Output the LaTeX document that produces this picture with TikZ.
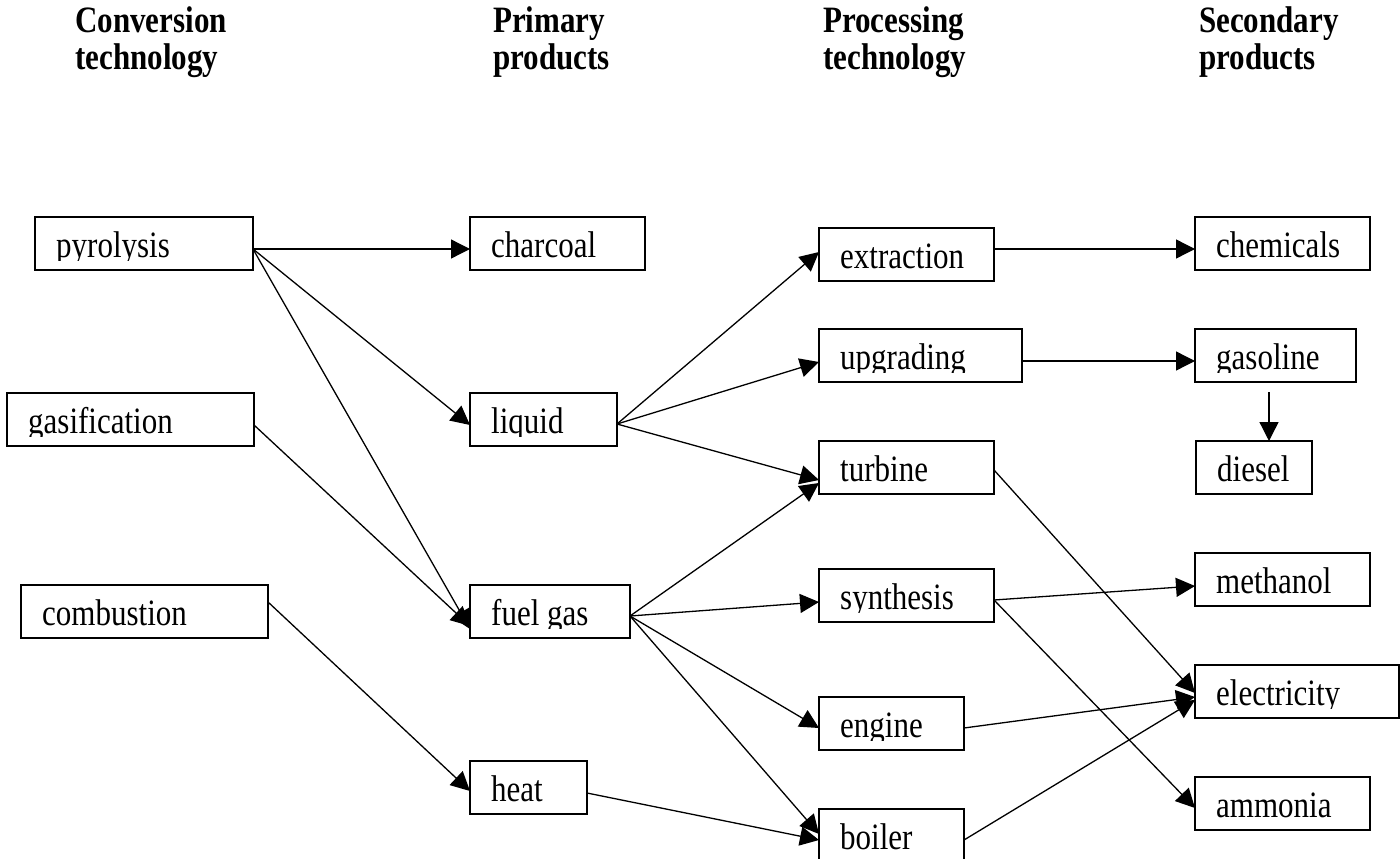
\documentclass[tikz,border=0pt]{standalone}
\usepackage{fontspec}
\setmainfont{Liberation Serif}
\usetikzlibrary{arrows.meta}
\tikzset{
  boxst/.style={draw, line width=1.6pt, rectangle, minimum height=53pt, inner sep=0pt, outer sep=0pt},
  lbl/.style={anchor=base west, inner sep=0pt, font=\fontsize{31}{36}\selectfont},
  hdr/.style={anchor=base west, inner sep=0pt, font=\fontsize{31}{36}\selectfont\bfseries},
  conn/.style={line width=1.3pt, -{Triangle[length=19pt,width=19pt]}},
}
\newcommand\vs[1]{\scalebox{1}[1.2]{#1}}
% name, left x, top y, width, text
\newcommand\bx[5]{%
  \node[boxst, minimum width=#4pt] (#1) at (#2+#4/2, #3+26.5) {};
  \begin{scope}
    \clip (#2,#3) rectangle (#2+#4,#3+43);
    \node[lbl] (#1-t) at (#2+21,#3+40) {\vs{#5}};
  \end{scope}}
\begin{document}
\begin{tikzpicture}[x=1pt,y=-1pt]
\useasboundingbox (0,0) rectangle (1400,859);
% headers
\node[hdr] (h1a) at (75,33) {\vs{Conversion}};
\node[hdr] (h1b) at (75,70) {\vs{technology}};
\node[hdr] (h2a) at (493,33) {\vs{Primary}};
\node[hdr] (h2b) at (493,70) {\vs{products}};
\node[hdr] (h3a) at (823,33) {\vs{Processing}};
\node[hdr] (h3b) at (823,70) {\vs{technology}};
\node[hdr] (h4a) at (1199,33) {\vs{Secondary}};
\node[hdr] (h4b) at (1199,70) {\vs{products}};
% boxes
\bx{pyro}{35}{217}{218}{pyrolysis}
\bx{gasif}{7}{393}{247}{gasification}
\bx{comb}{21}{585}{247}{combustion}
\bx{charcoal}{470}{217}{175}{charcoal}
\bx{liquid}{470}{393}{147}{liquid}
\bx{fuelgas}{470}{585}{160}{fuel gas}
\bx{heat}{470}{761}{117}{heat}
\bx{extraction}{819}{228}{175}{extraction}
\bx{upgrading}{819}{329}{203}{upgrading}
\bx{turbine}{819}{441}{175}{turbine}
\bx{synthesis}{819}{569}{175}{synthesis}
\bx{engine}{819}{697}{145}{engine}
\bx{boiler}{819}{809}{145}{boiler}
\bx{chemicals}{1195}{217}{175}{chemicals}
\bx{gasoline}{1195}{329}{161}{gasoline}
\bx{diesel}{1196}{441}{116}{diesel}
\bx{methanol}{1195}{553}{175}{methanol}
\bx{electricity}{1195}{665}{204}{electricity}
\bx{ammonia}{1195}{777}{175}{ammonia}
% connectors
\draw[conn] ([yshift=-32pt]pyro.north east) -- ([yshift=-32pt]charcoal.north west);
\draw[conn] ([yshift=-32pt]pyro.north east) -- ([yshift=-32pt]liquid.north west);
\draw[conn] ([yshift=-32pt]pyro.north east) -- ([yshift=-44pt]fuelgas.north west);
\draw[conn] ([yshift=-32pt]gasif.north east) -- ([yshift=-41pt]fuelgas.north west);
\draw[conn] ([yshift=-17pt]comb.north east) -- ([yshift=-30pt]heat.north west);
\draw[conn] ([yshift=-31pt]liquid.north east) -- ([yshift=-24pt]extraction.north west);
\draw[conn] ([yshift=-31pt]liquid.north east) -- ([yshift=-33pt]upgrading.north west);
\draw[conn] ([yshift=-31pt]liquid.north east) -- ([yshift=-39pt]turbine.north west);
\draw[conn] ([yshift=-31pt]fuelgas.north east) -- ([yshift=-42pt]turbine.north west);
\draw[conn] ([yshift=-31pt]fuelgas.north east) -- ([yshift=-33pt]synthesis.north west);
\draw[conn] ([yshift=-31pt]fuelgas.north east) -- ([yshift=-31pt]engine.north west);
\draw[conn] ([yshift=-31pt]fuelgas.north east) -- ([yshift=-25pt]boiler.north west);
\draw[conn] ([yshift=-32pt]heat.north east) -- ([yshift=-31pt]boiler.north west);
\draw[conn] ([yshift=-21pt]extraction.north east) -- ([yshift=-32pt]chemicals.north west);
\draw[conn] ([yshift=-32pt]upgrading.north east) -- ([yshift=-32pt]gasoline.north west);
\draw[conn] ([xshift=-6.5pt,yshift=-10pt]gasoline.south) -- ([xshift=15pt]diesel.north);
\draw[conn] ([yshift=-29pt]turbine.north east) -- ([yshift=-28pt]electricity.north west);
\draw[conn] ([yshift=-31pt]synthesis.north east) -- ([yshift=-33pt]methanol.north west);
\draw[conn] ([yshift=-31pt]synthesis.north east) -- ([yshift=-31pt]ammonia.north west);
\draw[conn] ([yshift=-31pt]engine.north east) -- ([yshift=-32pt]electricity.north west);
\draw[conn] ([yshift=-31pt]boiler.north east) -- ([yshift=-35pt]electricity.north west);
\end{tikzpicture}
\end{document}
